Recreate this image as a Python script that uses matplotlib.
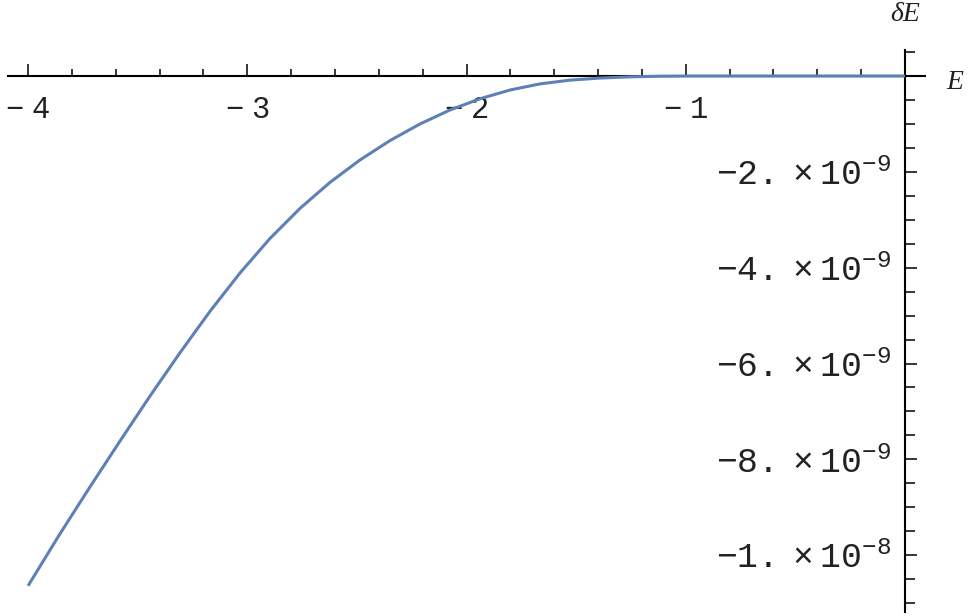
import numpy as np
import matplotlib
matplotlib.use('Agg')
import matplotlib.pyplot as plt

# curve, dE in units of 1e-9
E = [-4.0, -3.854, -3.717, -3.580, -3.444, -3.307, -3.170, -3.033, -2.896,
     -2.759, -2.622, -2.486, -2.349, -2.212, -2.075, -1.938, -1.802, -1.665,
     -1.528, -1.391, -1.254, -1.117, -0.981, -0.5, 0.0]
dE = [-10.64, -9.551, -8.572, -7.614, -6.681, -5.775, -4.910, -4.109, -3.388,
      -2.760, -2.217, -1.752, -1.347, -1.000, -0.708, -0.474, -0.292, -0.164,
      -0.086, -0.042, -0.017, -0.004, 0.0, 0.0, 0.0]

x_ticks = [-4, -3, -2, -1]
x_labels = [r'$\mathregular{-\;4}$', r'$\mathregular{-\;3}$',
            r'$\mathregular{-\;2}$', r'$\mathregular{-\;1}$']
y_ticks = [-2e-9, -4e-9, -6e-9, -8e-9, -1e-8]
y_labels = [r'$\mathregular{-2.\times10^{-9}}$', r'$\mathregular{-4.\times10^{-9}}$',
            r'$\mathregular{-6.\times10^{-9}}$', r'$\mathregular{-8.\times10^{-9}}$',
            r'$\mathregular{-1.\times10^{-8}}$']

plt.rcParams['font.family'] = ['Liberation Mono', 'DejaVu Sans']

fig = plt.figure(figsize=(9.76, 6.16), dpi=100)
ax = fig.add_axes([0, 0, 1, 1])

ax.plot(E, np.array(dE) * 1e-9, color='#5e81b5', lw=2.2, zorder=3,
        solid_capstyle='butt', solid_joinstyle='round')

ax.set_xlim(-4.128, 0.324)
ax.set_ylim(-11.27e-9, 1.587e-9)

for s in ['top', 'right']:
    ax.spines[s].set_visible(False)
ax.spines['left'].set_position(('data', 0))
ax.spines['bottom'].set_position(('data', 0))
ax.spines['left'].set_bounds(-11.19e-9, 0.54e-9)
ax.spines['bottom'].set_bounds(-4.09, 0.09)
for s in ['left', 'bottom']:
    ax.spines[s].set_linewidth(1.5)

ax.set_xticks(x_ticks, x_labels)
ax.set_xticks([v for v in np.arange(-3.8, -0.1, 0.2) if abs(v - round(v)) > 1e-6],
              minor=True)
ax.set_yticks(y_ticks, y_labels)
ax.set_yticks([v * 1e-9 for v in np.arange(-11, 1, 0.5) if v % 2 != 0 and v != 0],
              minor=True)

ax.tick_params(axis='x', which='major', direction='in', length=8.5, width=1.1,
               pad=14, labelsize=22, labelcolor='#222222')
ax.tick_params(axis='x', which='minor', direction='in', length=5, width=1.1)
ax.tick_params(axis='y', which='major', direction='in', length=8.5, width=1.1,
               pad=10, labelsize=25, labelcolor='#222222')
ax.tick_params(axis='y', which='minor', direction='in', length=7, width=1.1)

ax.text(0.19, -0.13e-9, 'E', fontsize=20, family='Liberation Serif',
        style='italic', ha='left', va='center', color='#222222')
ax.text(0, 1.29e-9, 'δE', fontsize=20, family='Liberation Serif',
        style='italic', ha='center', va='center', color='#222222')

fig.savefig('out.png', dpi=100)
